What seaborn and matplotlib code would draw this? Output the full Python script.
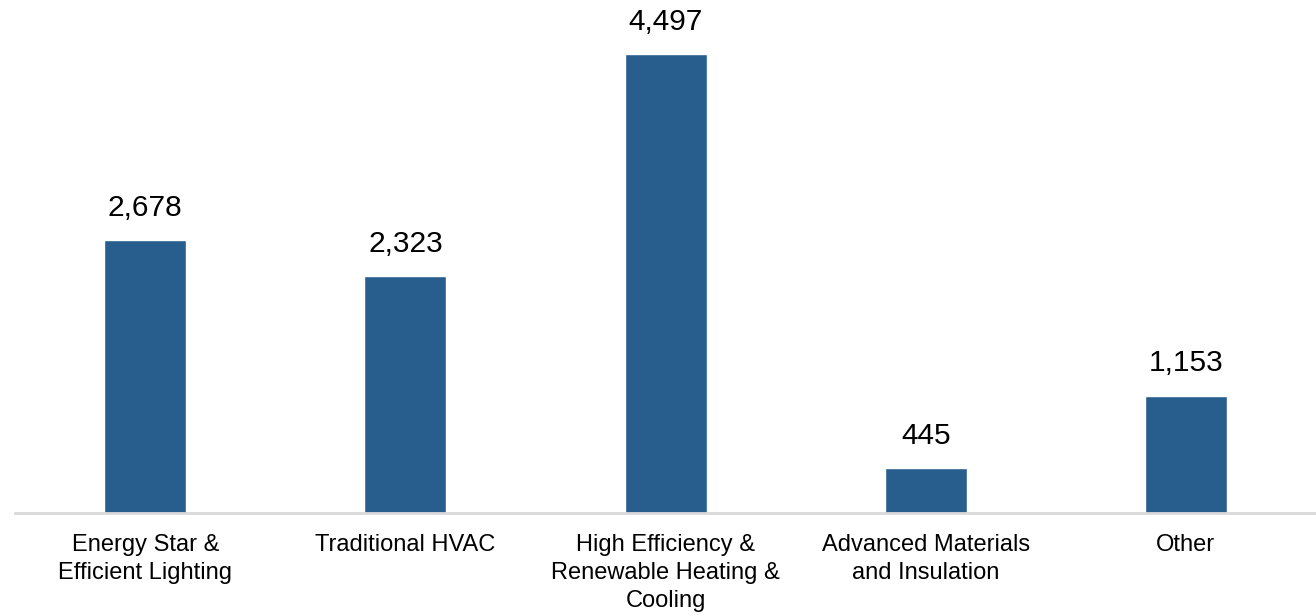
import matplotlib
matplotlib.use("Agg")
import matplotlib.pyplot as plt
import seaborn as sns
import pandas as pd

categories = ["Energy Star &\nEfficient Lighting", "Traditional HVAC",
              "High Efficiency &\nRenewable Heating &\nCooling",
              "Advanced Materials\nand Insulation", "Other"]
values = [2678, 2323, 4497, 445, 1153]
value_labels = ["2,678", "2,323", "4,497", "445", "1,153"]

sns.set_theme(style="white")
plt.rcParams['font.family'] = ['Liberation Sans', 'DejaVu Sans']

df = pd.DataFrame({"cat": categories, "val": values})
fig = plt.figure(figsize=(13.16, 6.16), dpi=100)
ax = fig.add_axes([0.0115, 0.167, 0.9885, 0.828])
sns.barplot(data=df, x="cat", y="val", color="#285E8E", saturation=1,
            width=0.315, ax=ax)
for p, lab in zip(ax.patches, value_labels):
    ax.annotate(lab, (p.get_x() + p.get_width() / 2, p.get_height()),
                xytext=(0, 13), textcoords="offset points",
                ha="center", va="bottom", fontsize=21.5, color="black")
ax.set_ylim(0, 5000)
ax.set_xlim(-0.5, 4.5)
ax.set_xlabel("")
ax.set_ylabel("")
ax.set_yticks([])
for s in ["top", "right", "left"]:
    ax.spines[s].set_visible(False)
ax.spines["bottom"].set_color("#d9d9d9")
ax.spines["bottom"].set_linewidth(2)
ax.tick_params(axis="x", length=0, pad=15, labelsize=17, colors="black")
for t in ax.get_xticklabels():
    t.set_linespacing(1.35)
fig.savefig("out.png", dpi=100)
